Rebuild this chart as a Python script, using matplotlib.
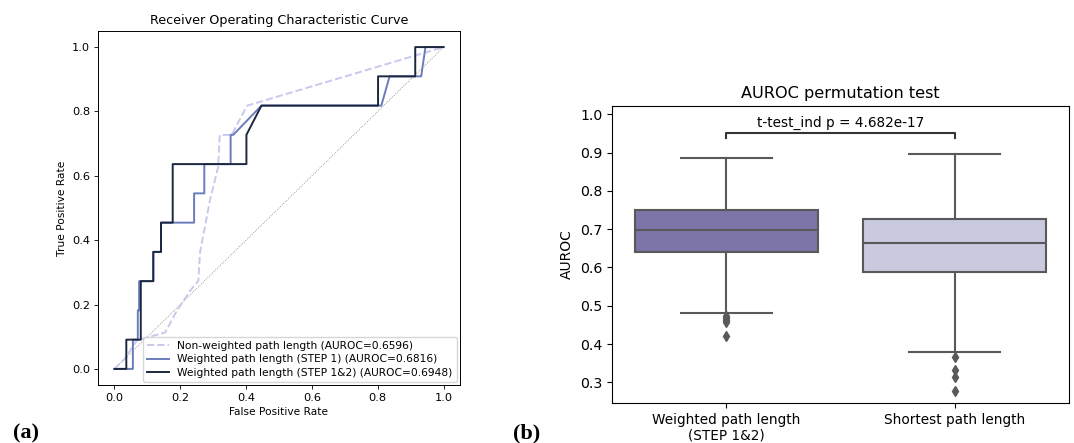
import matplotlib
matplotlib.use("Agg")
import matplotlib.pyplot as plt
import numpy as np

# ---------------- data: ROC curves ----------------
nonw_fpr = [0.0, 0.03, 0.068, 0.154, 0.189, 0.23, 0.255, 0.26, 0.29, 0.315, 0.32, 0.356, 0.403, 1.0]
nonw_tpr = [0.0, 0.03, 0.089, 0.113, 0.18, 0.243, 0.274, 0.362, 0.523, 0.627, 0.727, 0.727, 0.818, 1.0]

step1_fpr = [0.0, 0.056, 0.056, 0.071, 0.071, 0.075, 0.075, 0.118, 0.118, 0.1415, 0.1415, 0.242, 0.242, 0.273, 0.273, 0.353, 0.353, 0.361, 0.4467, 0.811, 0.836, 0.932, 0.945, 1.0]
step1_tpr = [0.0, 0.0, 0.0909, 0.0909, 0.1818, 0.1818, 0.2727, 0.2727, 0.3636, 0.3636, 0.4545, 0.4545, 0.5455, 0.5455, 0.6364, 0.6364, 0.7273, 0.7273, 0.8182, 0.8182, 0.9091, 0.9091, 1.0, 1.0]

step12_fpr = [0.0, 0.036, 0.036, 0.08, 0.08, 0.118, 0.118, 0.1415, 0.1415, 0.177, 0.177, 0.401, 0.401, 0.4467, 0.801, 0.801, 0.914, 0.914, 1.0]
step12_tpr = [0.0, 0.0, 0.0909, 0.0909, 0.2727, 0.2727, 0.3636, 0.3636, 0.4545, 0.4545, 0.6364, 0.6364, 0.7273, 0.8182, 0.8182, 0.9091, 0.9091, 1.0, 1.0]

roc_labels = ["Non-weighted path length (AUROC=0.6596)",
              "Weighted path length (STEP 1) (AUROC=0.6816)",
              "Weighted path length (STEP 1&2) (AUROC=0.6948)"]

# ---------------- data: box plot stats ----------------
box_categories = ["Weighted path length\n(STEP 1&2)", "Shortest path length"]
box_q1 = [0.641, 0.587]
box_med = [0.699, 0.664]
box_q3 = [0.749, 0.7276]
box_whislo = [0.480, 0.380]
box_whishi = [0.8845, 0.897]
box_fliers = [[0.474, 0.468, 0.462, 0.457, 0.421], [0.367, 0.333, 0.313, 0.277]]
pvalue_text = "t-test_ind p = 4.682e-17"

fig = plt.figure(figsize=(10.74, 4.43), dpi=100)

# ---------------- left: ROC ----------------
ax1 = fig.add_axes([98/1074, 58/443, 362/1074, 354/443])
ax1.plot([0, 1], [0, 1], linestyle=":", color="grey", linewidth=0.6)
ax1.plot(nonw_fpr, nonw_tpr, linestyle="--", color="#c9c9ef", linewidth=1.4, label=roc_labels[0])
ax1.plot(step1_fpr, step1_tpr, color="#6a7cbc", linewidth=1.4, label=roc_labels[1])
ax1.plot(step12_fpr, step12_tpr, color="#1b2740", linewidth=1.4, label=roc_labels[2])
ax1.set_xlim(-0.05, 1.05)
ax1.set_ylim(-0.05, 1.05)
ax1.set_title("Receiver Operating Characteristic Curve", fontsize=9.2, pad=5)
ax1.set_xlabel("False Positive Rate", fontsize=7.7, labelpad=3)
ax1.set_ylabel("True Positive Rate", fontsize=7.7, labelpad=4)
ax1.tick_params(labelsize=8.2, length=3, width=0.6, pad=2.5)
for s in ax1.spines.values():
    s.set_linewidth(0.7)
ax1.legend(loc="lower right", fontsize=7.7, handlelength=2.0, borderpad=0.4,
           labelspacing=0.3, borderaxespad=0.3)

# ---------------- right: box plot ----------------
ax2 = fig.add_axes([612/1074, 40/443, 457/1074, 297/443])
stats = []
for i in range(len(box_categories)):
    stats.append(dict(med=box_med[i], q1=box_q1[i], q3=box_q3[i],
                      whislo=box_whislo[i], whishi=box_whishi[i],
                      fliers=box_fliers[i], label=box_categories[i]))
line_col = "#595959"
bp = ax2.bxp(stats, positions=[0, 1], widths=0.8, patch_artist=True,
             boxprops=dict(edgecolor=line_col, linewidth=1.5),
             medianprops=dict(color=line_col, linewidth=1.5),
             whiskerprops=dict(color=line_col, linewidth=1.5),
             capprops=dict(color=line_col, linewidth=1.5),
             flierprops=dict(marker="d", markerfacecolor=line_col,
                             markeredgecolor=line_col, markersize=5))
box_colors = ["#7d74a8", "#c9c9df"]
for patch, c in zip(bp["boxes"], box_colors):
    patch.set_facecolor(c)
for cap in bp["caps"]:
    xd = cap.get_xdata()
    mid = (xd[0] + xd[1]) / 2
    cap.set_xdata([mid - 0.2, mid + 0.2])
ax2.set_xlim(-0.5, 1.5)
ax2.set_ylim(0.246, 1.0216)
ax2.set_yticks([0.3, 0.4, 0.5, 0.6, 0.7, 0.8, 0.9, 1.0])
ax2.set_xticks([0, 1])
ax2.set_xticklabels(box_categories, fontsize=9.8)
ax2.tick_params(axis="y", labelsize=10.2)
ax2.set_ylabel("AUROC", fontsize=10)
ax2.set_title("AUROC permutation test", fontsize=11.6, pad=6)
# significance bracket
yb, yt = 0.9375, 0.952
ax2.plot([0, 0, 1, 1], [yb, yt, yt, yb], color="#333333", linewidth=1.5)
ax2.text(0.5, yt + 0.006, pvalue_text, ha="center", va="bottom", fontsize=9.8)

# panel labels
fig.text(13/1074, 5/443, "(a)", fontsize=16, fontweight="bold",
         family="Liberation Serif", va="baseline", ha="left")
fig.text(513/1074, 5/443, "(b)", fontsize=16, fontweight="bold",
         family="Liberation Serif", va="baseline", ha="left")

fig.savefig("out.png", dpi=100)
